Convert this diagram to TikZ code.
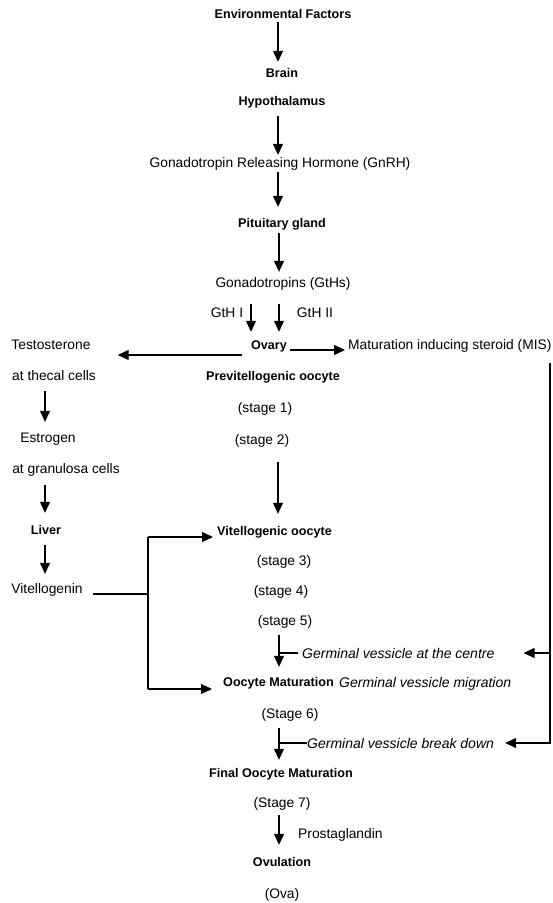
\documentclass[tikz,border=0pt]{standalone}
\usepackage{fontspec}
\setmainfont{Liberation Sans}
\usetikzlibrary{arrows.meta,calc}
\begin{document}
\begin{tikzpicture}[x=1pt,y=-1pt,
  reg/.style={inner sep=0pt, text height=9.9pt, text depth=0pt, font=\fontsize{13.8}{16}\selectfont},
  bld/.style={inner sep=0pt, text height=9pt, text depth=0pt, font=\fontsize{12.6}{15}\selectfont\bfseries},
  itl/.style={inner sep=0pt, text height=10pt, text depth=0pt, font=\fontsize{14}{16}\selectfont\itshape},
  arr/.style={line width=1.2pt, -{Triangle[length=11pt,width=10pt]}},
  ln/.style={line width=1.2pt}]
\useasboundingbox (0,0) rectangle (552,903);
\fill[white] (0,0) rectangle (552,903);
% column coordinates
\coordinate (cx) at (278,0);
\coordinate (cm) at (279,0);
\coordinate (c1) at (251,0);
\coordinate (lx) at (45,0);
\coordinate (busx) at (148,0);
\coordinate (railx) at (550,0);
% nodes
\node[bld] (env) at (283,14) {Environmental Factors};
\node[bld] (brain) at (282,73) {Brain};
\node[bld] (hypo) at (282,101) {Hypothalamus};
\node[reg] (gnrh) at (280,163) {Gonadotropin Releasing Hormone (GnRH)};
\node[bld] (pit) at (282,223) {Pituitary gland};
\node[reg] (gths) at (283,283) {Gonadotropins (GtHs)};
\node[reg] (gth1) at (227,313) {GtH I};
\node[reg] (gth2) at (315,313) {GtH II};
\node[bld] (ovary) at (269,345) {Ovary};
\node[reg, anchor=west] (mis) at (348,345) {Maturation inducing steroid (MIS)};
\node[reg] (testo) at (51,345) {Testosterone};
\node[reg] (thecal) at (54,376) {at thecal cells};
\node[reg] (estro) at (48,438) {Estrogen};
\node[reg] (granu) at (66,469) {at granulosa cells};
\node[bld] (liver) at (46,530) {Liver};
\node[reg] (vtg) at (47,589) {Vitellogenin};
\node[bld] (prev) at (273,376) {Previtellogenic oocyte};
\node[reg] (s1) at (265,408) {(stage 1)};
\node[reg] (s2) at (262,440) {(stage 2)};
\node[bld, anchor=west] (vito) at (217,531) {Vitellogenic oocyte};
\node[reg] (s3) at (284,561) {(stage 3)};
\node[reg] (s4) at (281,591) {(stage 4)};
\node[reg] (s5) at (285,621) {(stage 5)};
\node[itl, anchor=west] (gvc) at (302,653) {Germinal vessicle at the centre};
\node[bld, anchor=west] (om) at (223,682) {Oocyte Maturation};
\node[itl, anchor=west] (gvm) at (339,682) {Germinal vessicle migration};
\node[reg] (s6) at (290,714) {(Stage 6)};
\node[itl, anchor=west] (gvb) at (307,743) {Germinal vessicle break down};
\node[bld] (fom) at (281,773) {Final Oocyte Maturation};
\node[reg] (s7) at (282,803) {(Stage 7)};
\node[reg, anchor=west] (prost) at (298,834) {Prostaglandin};
\node[bld] (ovu) at (282,862) {Ovulation};
\node[reg] (ova) at (282,894) {(Ova)};
% main column arrows
\draw[arr, shorten <=3.5pt, shorten >=6.5pt] (env.south -| cx) -- (brain.north -| cx);
\draw[arr, shorten <=10.5pt, shorten >=3pt] (hypo.south -| cx) -- (gnrh.north -| cx);
\draw[arr, shorten <=4pt, shorten >=11.5pt] (gnrh.south -| cx) -- (pit.north -| cx);
\draw[arr, shorten <=5.5pt, shorten >=6pt] (pit.south -| cm) -- (gths.north -| cm);
\draw[arr, shorten <=16pt, shorten >=8.5pt] (gths.south -| c1) -- (ovary.north -| c1);
\draw[arr, shorten <=16pt, shorten >=8.5pt] (gths.south -| cm) -- (ovary.north -| cm);
% ovary side arrows
\draw[arr] ($(ovary.west)+(-9,10)$) -- ($(testo.east)+(27,10)$);
\draw[arr] ($(ovary.east)+(3,5)$) -- ($(mis.west)+(-3,5)$);
% MIS rail
\draw[arr] ($(mis.south -| railx)+(0,13)$) |- ($(gvc.east)+(29,0)$);
\draw[arr] ($(mis.south -| railx)+(0,13)$) |- ($(gvb.east)+(11,0)$);
% vitellogenin bus
\draw[ln] ($(vtg.east)+(10,5)$) -- ($(vtg.east -| busx)+(0,5)$);
\draw[ln] ($(vito.west -| busx)+(0,6)$) -- ($(om.west -| busx)+(0,7)$);
\draw[arr] ($(vito.west -| busx)+(0,6)$) -- ($(vito.west)+(-4,6)$);
\draw[arr] ($(om.west -| busx)+(0,7)$) -- ($(om.west)+(-11,7)$);
% lower main column
\draw[arr, shorten <=17pt, shorten >=12.5pt] (s2.south -| cx) -- (vito.north -| cx);
\draw[arr, shorten <=9pt, shorten >=10.5pt] (s5.south -| cm) -- (om.north -| cm);
\draw[ln] ($(gvc.west)+(-4,0)$) -- (gvc.west -| cm);
\draw[arr, shorten <=9pt, shorten >=8.5pt] (s6.south -| cm) -- (fom.north -| cm);
\draw[ln] (gvb.west) -- (gvb.west -| cm);
\draw[arr, shorten <=7pt, shorten >=12.5pt] (s7.south -| cm) -- (ovu.north -| cm);
% left column
\draw[arr, shorten <=10pt, shorten >=11pt] (thecal.south -| lx) -- (estro.north -| lx);
\draw[arr, shorten <=11pt, shorten >=12.5pt] (granu.south -| lx) -- (liver.north -| lx);
\draw[arr, shorten <=10.5pt, shorten >=10pt] (liver.south -| lx) -- (vtg.north -| lx);
\end{tikzpicture}
\end{document}
